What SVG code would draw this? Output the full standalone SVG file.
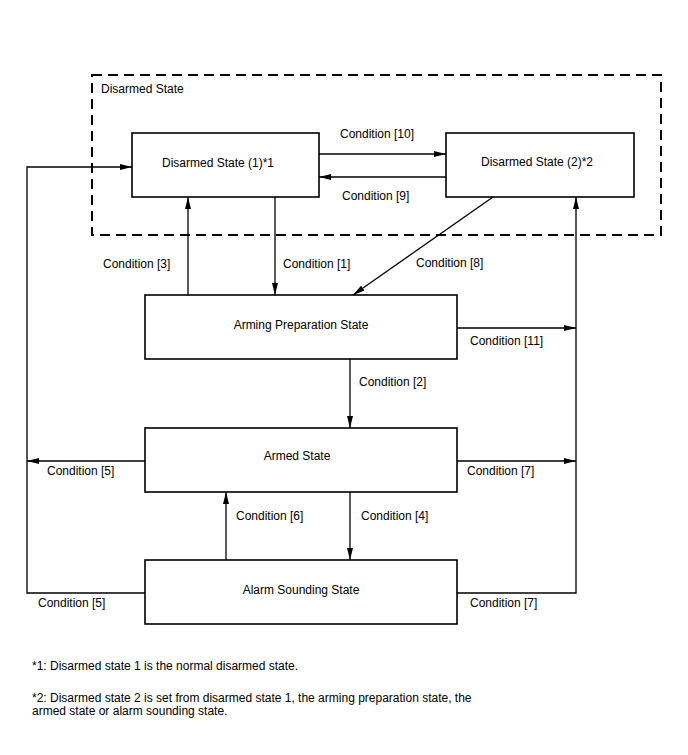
<svg xmlns="http://www.w3.org/2000/svg" width="688" height="755" viewBox="0 0 688 755">
<defs>
<marker id="ah" viewBox="0 0 12 6" refX="12" refY="3" markerWidth="12" markerHeight="6" markerUnits="userSpaceOnUse" orient="auto">
<path d="M0,0 L12,3 L0,6 Z" fill="#000"/>
</marker>
<style>
text{font-family:"Liberation Sans",Arial,sans-serif;font-size:12px;fill:#000}
.box{fill:#fff;stroke:#000;stroke-width:1.6}
.c{fill:none;stroke:#000;stroke-width:1.3}
.a{marker-end:url(#ah)}
.mid{text-anchor:middle}
</style>
</defs>
<rect width="688" height="755" fill="#fff"/>
<g id="group-disarmed">
<rect x="92" y="75" width="569" height="160" fill="none" stroke="#000" stroke-width="2" stroke-dasharray="10,6"/>
<text x="101" y="93">Disarmed State</text>
</g>
<g id="connectors">
<line class="c a" x1="319" y1="154" x2="446" y2="154"/>
<line class="c a" x1="446" y1="177" x2="319" y2="177"/>
<line class="c a" x1="188" y1="295" x2="188" y2="197"/>
<line class="c a" x1="275" y1="197" x2="275" y2="295"/>
<line class="c a" x1="493" y1="197" x2="353" y2="295"/>
<line class="c a" x1="457" y1="328" x2="576" y2="328"/>
<line class="c a" x1="350" y1="359" x2="350" y2="428"/>
<line class="c a" x1="145" y1="461" x2="27" y2="461"/>
<line class="c a" x1="457" y1="461" x2="576" y2="461"/>
<line class="c a" x1="226" y1="560" x2="226" y2="492"/>
<line class="c a" x1="350" y1="492" x2="350" y2="560"/>
<polyline class="c a" points="145,593 27,593 27,167 132,167"/>
<polyline class="c a" points="457,593 576,593 576,197"/>
<text x="340" y="138">Condition [10]</text>
<text x="342" y="200">Condition [9]</text>
<text x="103" y="268">Condition [3]</text>
<text x="283" y="268">Condition [1]</text>
<text x="416" y="267">Condition [8]</text>
<text x="470" y="345">Condition [11]</text>
<text x="359" y="386">Condition [2]</text>
<text x="47" y="475">Condition [5]</text>
<text x="467" y="475">Condition [7]</text>
<text x="236" y="520">Condition [6]</text>
<text x="361" y="520">Condition [4]</text>
<text x="38" y="607">Condition [5]</text>
<text x="470" y="607">Condition [7]</text>
</g>
<g id="node-disarmed1">
<rect class="box" x="132" y="133" width="187" height="64"/>
<text class="mid" x="218" y="167">Disarmed State (1)*1</text>
</g>
<g id="node-disarmed2">
<rect class="box" x="446" y="133" width="188" height="64"/>
<text class="mid" x="537" y="166">Disarmed State (2)*2</text>
</g>
<g id="node-arming">
<rect class="box" x="145" y="295" width="312" height="64"/>
<text class="mid" x="301" y="329">Arming Preparation State</text>
</g>
<g id="node-armed">
<rect class="box" x="145" y="428" width="312" height="64"/>
<text class="mid" x="297" y="460">Armed State</text>
</g>
<g id="node-alarm">
<rect class="box" x="145" y="560" width="312" height="64"/>
<text class="mid" x="301" y="594">Alarm Sounding State</text>
</g>
<g id="footnotes">
<text x="32" y="670">*1: Disarmed state 1 is the normal disarmed state.</text>
<text x="32" y="702">*2: Disarmed state 2 is set from disarmed state 1, the arming preparation state, the</text>
<text x="32" y="715">armed state or alarm sounding state.</text>
</g>
</svg>
